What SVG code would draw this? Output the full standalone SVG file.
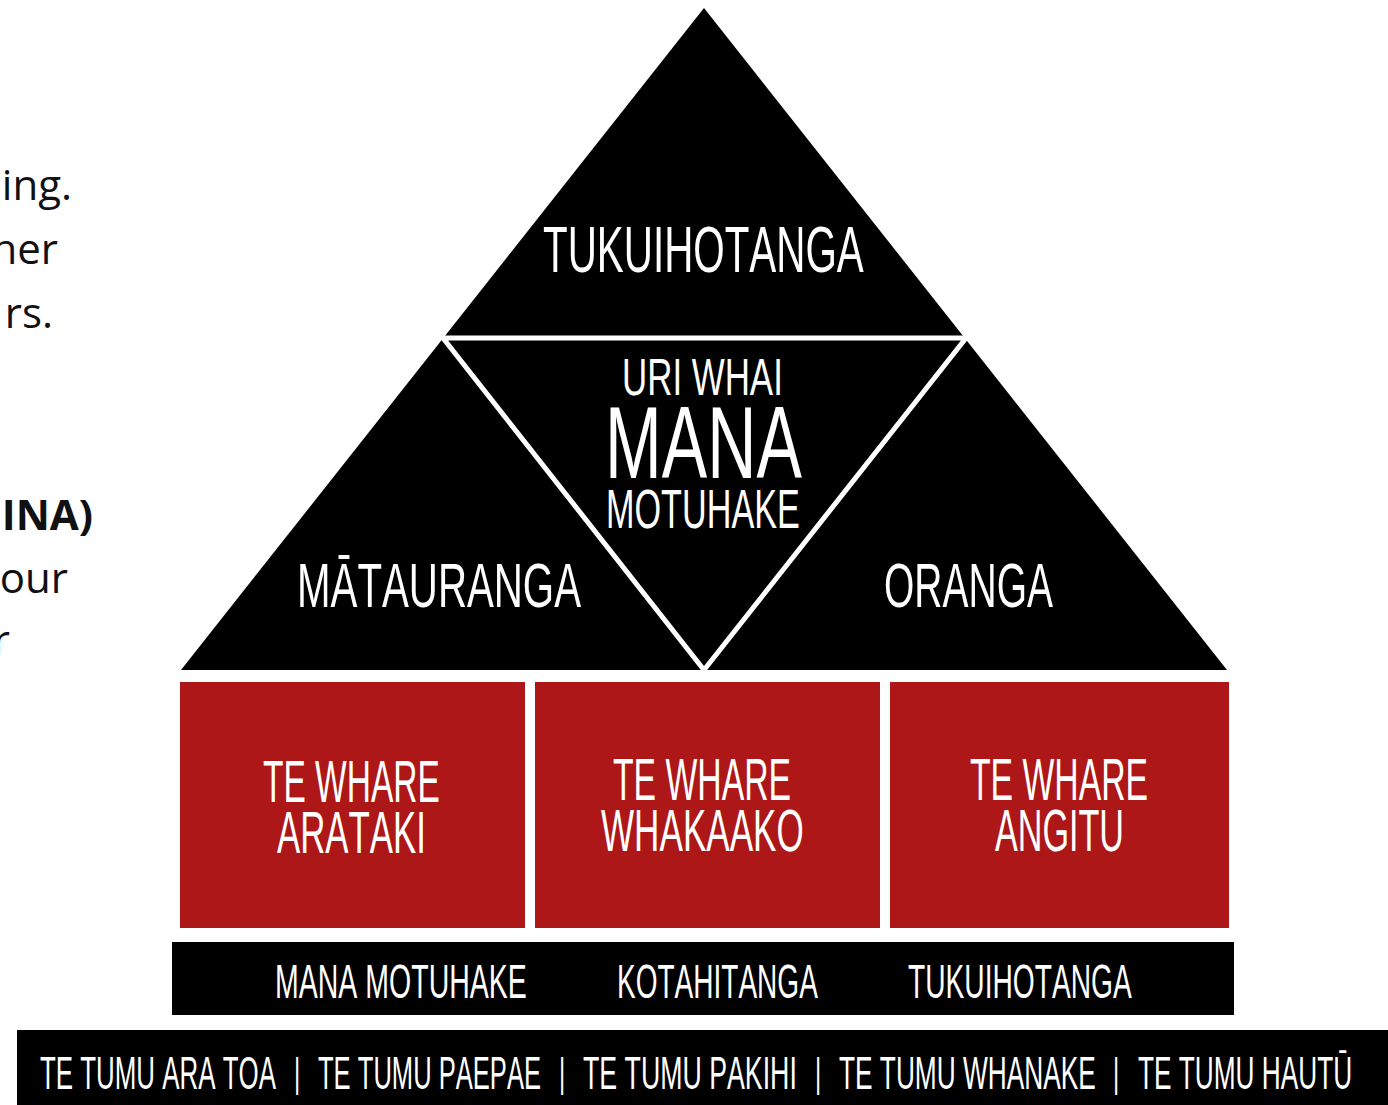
<svg xmlns="http://www.w3.org/2000/svg" width="1388" height="1105" viewBox="0 0 1388 1105">
<style>
.c{font-family:"Liberation Sans","Roboto",sans-serif;fill:#fff;text-anchor:start;font-kerning:none}
.b{font-family:"Open Sans","Liberation Sans",sans-serif;fill:#111;font-size:42px;text-anchor:end}
.blk{fill:#000}
.red{fill:#AD1717}
.div{fill:none;stroke:#fff;stroke-width:5;stroke-linejoin:miter}
.p{font-size:40px}
</style>
<rect width="1388" height="1105" fill="#fff"/>
<g id="left-text">
<text class="b" x="72" y="200">ing.</text>
<text class="b" x="58" y="264">her</text>
<text class="b" x="53" y="328">rs.</text>
<text class="b" x="93" y="530" font-weight="bold">INA)</text>
<text class="b" x="68" y="593">our</text>
<text class="b" x="10" y="655">r</text>
</g>
<g id="pyramid">
<polygon class="blk" points="704,8 181,670 1227,670"/>
</g>
<g id="dividers">
<polygon class="div" points="443,338 966,338 704,670"/>
</g>
<g id="tukuihotanga-top">
<text class="c" font-size="64" transform="translate(543,272) scale(0.631,1)">TUKUIHOTANGA</text>
</g>
<g id="uri-whai-mana-motuhake">
<text class="c" font-size="52" transform="translate(622,395) scale(0.671,1)">URI WHAI</text>
<text class="c" font-size="102" transform="translate(605,478) scale(0.668,1)">MANA</text>
<text class="c" font-size="56" transform="translate(606,528) scale(0.611,1)">MOTUHAKE</text>
</g>
<g id="matauranga">
<text class="c" font-size="63" transform="translate(297,607) scale(0.639,1)">MĀTAURANGA</text>
</g>
<g id="oranga">
<text class="c" font-size="63" transform="translate(884,607) scale(0.619,1)">ORANGA</text>
</g>
<g id="te-whare-arataki">
<rect class="red" x="180" y="682" width="345" height="246"/>
<text class="c" font-size="59" transform="translate(263,802) scale(0.568,1)">TE WHARE</text>
<text class="c" font-size="59" transform="translate(277,853) scale(0.590,1)">ARATAKI</text>
</g>
<g id="te-whare-whakaako">
<rect class="red" x="535" y="682" width="345" height="246"/>
<text class="c" font-size="59" transform="translate(613,800) scale(0.572,1)">TE WHARE</text>
<text class="c" font-size="59" transform="translate(601,851) scale(0.595,1)">WHAKAAKO</text>
</g>
<g id="te-whare-angitu">
<rect class="red" x="890" y="682" width="339" height="246"/>
<text class="c" font-size="59" transform="translate(970,800) scale(0.572,1)">TE WHARE</text>
<text class="c" font-size="59" transform="translate(995,851) scale(0.579,1)">ANGITU</text>
</g>
<g id="values-bar">
<rect class="blk" x="172" y="942" width="1062" height="73"/>
<text class="c" font-size="49" transform="translate(275,998) scale(0.582,1)">MANA MOTUHAKE</text>
<text class="c" font-size="49" transform="translate(617,998) scale(0.572,1)">KOTAHITANGA</text>
<text class="c" font-size="49" transform="translate(908,998) scale(0.575,1)">TUKUIHOTANGA</text>
</g>
<g id="tumu-bar">
<rect class="blk" x="17" y="1030" width="1371" height="75"/>
<text class="c" font-size="47" transform="translate(40,1089) scale(0.551,1)">TE TUMU ARA TOA</text>
<text class="c p" transform="translate(294,1087) scale(0.6,1)">|</text>
<text class="c" font-size="47" transform="translate(318,1089) scale(0.544,1)">TE TUMU PAEPAE</text>
<text class="c p" transform="translate(559,1087) scale(0.6,1)">|</text>
<text class="c" font-size="47" transform="translate(583,1089) scale(0.569,1)">TE TUMU PAKIHI</text>
<text class="c p" transform="translate(815,1087) scale(0.6,1)">|</text>
<text class="c" font-size="47" transform="translate(839,1089) scale(0.559,1)">TE TUMU WHANAKE</text>
<text class="c p" transform="translate(1113,1087) scale(0.6,1)">|</text>
<text class="c" font-size="47" transform="translate(1138,1089) scale(0.558,1)">TE TUMU HAUTŪ</text>
</g>
</svg>
